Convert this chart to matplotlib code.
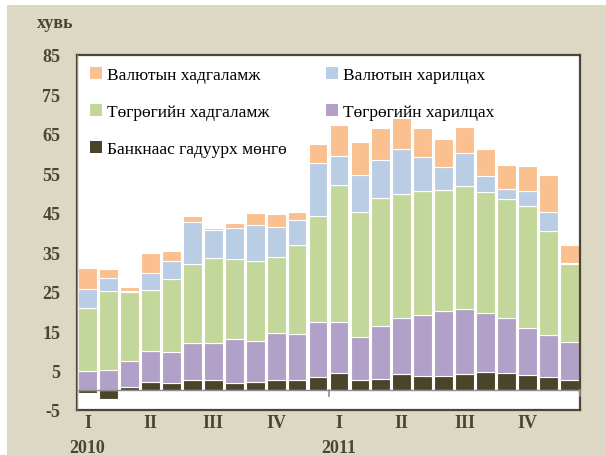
import matplotlib
matplotlib.use('Agg')
import matplotlib.pyplot as plt
import matplotlib.transforms as mtransforms
from matplotlib.patches import Rectangle
import numpy as np

plt.rcParams['font.family'] = ['Liberation Serif', 'DejaVu Serif']
plt.rcParams['axes.unicode_minus'] = False

# monthly data, 2010-2011 (%)
months = list(range(24))
quarter_labels = ['I', 'II', 'III', 'IV', 'I', 'II', 'III', 'IV']
quarter_pos = [0, 3, 6, 9, 12, 15, 18, 21]
year_labels = ['2010', '2011']
year_pos = [0, 12]

cash = [-0.7, -2.1, 0.85, 2.0, 1.8, 2.5, 2.6, 1.9, 2.1, 2.7, 2.5, 3.4,
        4.5, 2.5, 2.9, 4.1, 3.6, 3.6, 4.1, 4.6, 4.5, 3.8, 3.4, 2.5]
mnt_current = [4.9, 5.2, 6.55, 8.0, 7.8, 9.4, 9.4, 11.0, 10.4, 11.8, 11.8, 13.9,
               12.8, 10.9, 13.3, 14.2, 15.5, 16.5, 16.5, 15.0, 13.9, 12.0, 10.6, 9.8]
mnt_deposit = [16.0, 20.0, 17.4, 15.5, 18.7, 20.0, 21.6, 20.5, 20.2, 19.4, 22.6, 26.8,
               34.7, 31.7, 32.5, 31.5, 31.4, 30.8, 31.3, 30.7, 30.2, 30.8, 26.5, 19.7]
fx_current = [4.9, 3.2, 0.4, 4.3, 4.6, 10.8, 7.1, 7.8, 9.1, 7.6, 6.3, 13.6,
              7.4, 9.6, 9.6, 11.3, 8.6, 5.7, 8.2, 3.9, 2.5, 3.8, 4.6, 0.2]
fx_deposit = [5.2, 2.3, 1.0, 5.0, 2.3, 1.5, 0.4, 1.3, 3.2, 3.3, 2.0, 4.7,
              7.9, 8.3, 8.1, 7.9, 7.5, 7.0, 6.7, 7.0, 6.1, 6.4, 9.5, 4.7]

fig = plt.figure(figsize=(6.06, 4.56), dpi=100)
fig.patches.append(Rectangle((7 / 606, 0), 1, 450 / 456, transform=fig.transFigure,
                             facecolor='#ddd8c3', edgecolor='none', zorder=-10))
ax = fig.add_axes([77 / 606, 1 - 411 / 456, 503 / 606, 355 / 456])

txt_col = '#4a4632'
x = np.array(months)
w = 0.9
ec = dict(edgecolor='white', linewidth=0.8)

cash_arr = np.array(cash)
base = np.clip(cash_arr, 0, None)
b_cash = ax.bar(x, cash_arr, w, color='#4a452a', **ec)
b_mc = ax.bar(x, mnt_current, w, bottom=base, color='#b1a0c7', **ec)
base = base + np.array(mnt_current)
b_md = ax.bar(x, mnt_deposit, w, bottom=base, color='#c4d79b', **ec)
base = base + np.array(mnt_deposit)
b_fc = ax.bar(x, fx_current, w, bottom=base, color='#b9cde5', **ec)
base = base + np.array(fx_current)
b_fd = ax.bar(x, fx_deposit, w, bottom=base, color='#fac090', **ec)

ax.set_xlim(-0.5, 23.5)
ax.set_ylim(-5, 85)
ax.set_yticks(range(-5, 86, 10))
ax.tick_params(axis='y', length=0, pad=12, labelsize=13, labelcolor=txt_col)
for t in ax.get_yticklabels():
    t.set_fontweight('bold')
ax.set_xticks([])

ax.axhline(0, color='#8c8c8c', lw=1, zorder=3)
ax.axvline(-0.5, color='#8c8c8c', lw=1.5, zorder=3)
for xt in [11.5, 23.5]:
    ax.plot([xt, xt], [0, -1.5], color='#8c8c8c', lw=1.2, zorder=3, clip_on=False)

for s in ax.spines.values():
    s.set_color('#4a4632')
    s.set_linewidth(1.6)

trans = mtransforms.blended_transform_factory(ax.transData, ax.transAxes)
for p, lab in zip(quarter_pos, quarter_labels):
    ax.text(p, -0.012, lab, transform=trans, ha='center', va='top',
            fontsize=13, fontweight='bold', color=txt_col)
for p, lab in zip(year_pos, year_labels):
    ax.text(p, -0.083, lab, transform=trans, ha='center', va='top',
            fontsize=13, fontweight='bold', color=txt_col)

fig.text(55 / 606, 1 - 24 / 456, 'хувь', ha='center', va='center',
         fontsize=13, fontweight='bold', color=txt_col)

handles = [b_fd, b_md, b_cash, b_fc, b_mc]
labels = ['Валютын хадгаламж', 'Төгрөгийн хадгаламж', 'Банкнаас гадуурх мөнгө',
          'Валютын харилцах', 'Төгрөгийн харилцах']
leg = ax.legend(handles, labels, ncol=2, loc='upper left', bbox_to_anchor=(-0.005, 1.01),
                frameon=False, fontsize=12.5, handlelength=0.7, handleheight=0.7,
                handletextpad=0.25, labelspacing=1.2, columnspacing=2.3)
for h in leg.legend_handles:
    h.set_edgecolor('none')

fig.savefig('out.png', dpi=100)
